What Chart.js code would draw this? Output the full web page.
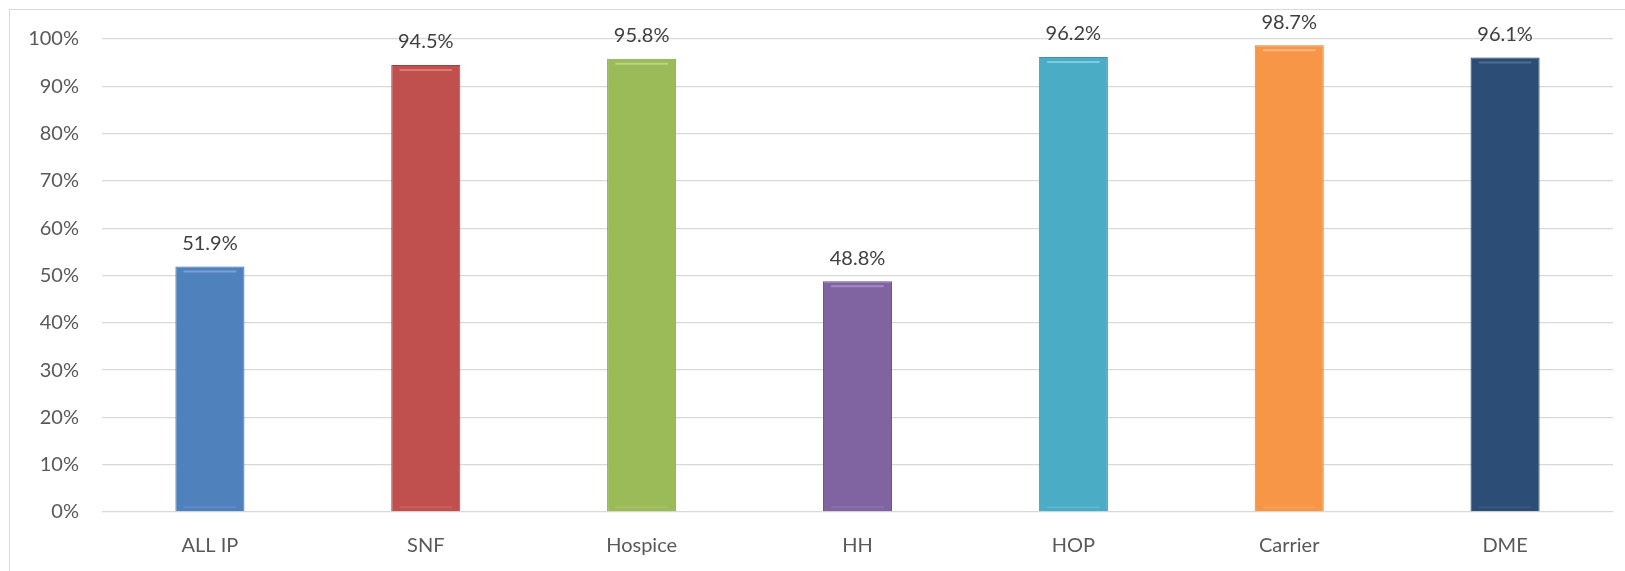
<!DOCTYPE html>
<html>
<head>
<meta charset="utf-8">
<script src="https://cdn.jsdelivr.net/npm/chart.js@4"></script>
<style>
  html, body { margin: 0; padding: 0; background: #fff; overflow: hidden; }
  #frame { position: absolute; left: 9px; top: 9px; width: 1640px; height: 600px; border: 1px solid #d9d9d9; box-sizing: border-box; }
  #wrap { position: absolute; left: 0; top: 0; width: 1625px; height: 571px; }
</style>
</head>
<body>
<div id="frame"></div>
<div id="wrap"><canvas id="c"></canvas></div>
<script>
const categories = ["ALL IP", "SNF", "Hospice", "HH", "HOP", "Carrier", "DME"];
const values = [51.9, 94.5, 95.8, 48.8, 96.2, 98.7, 96.1];
const barColors = ["#4F81BD", "#C0504D", "#9BBB59", "#8064A2", "#4BACC6", "#F79646", "#2C4D75"];
const borderColors = ["#3E6EA8", "#A43F3C", "#83A246", "#6A5089", "#3894AC", "#D9802F", "#223D5E"];
const highlightColors = ["#79A3D6", "#DB7A77", "#BAD586", "#A28CC2", "#7DCCE0", "#FBB782", "#4C6E96"];
const yTicks = [0, 10, 20, 30, 40, 50, 60, 70, 80, 90, 100];

const FONT = "Lato, 'Liberation Sans', sans-serif";

const bevelPlugin = {
  id: 'bevel',
  afterDatasetsDraw(chart) {
    const ctx = chart.ctx;
    const meta = chart.getDatasetMeta(0);
    meta.data.forEach((bar, i) => {
      const w = bar.width;
      const left = bar.x - w / 2;
      ctx.save();
      ctx.strokeStyle = highlightColors[i];
      ctx.lineWidth = 2;
      ctx.lineCap = 'round';
      ctx.beginPath();
      ctx.moveTo(left + 9, bar.y + 5);
      ctx.lineTo(left + w - 9, bar.y + 5);
      ctx.stroke();
      ctx.globalAlpha = 0.35;
      ctx.beginPath();
      ctx.moveTo(left + 9, bar.base - 4);
      ctx.lineTo(left + w - 9, bar.base - 4);
      ctx.stroke();
      ctx.restore();
    });
  }
};

const labelPlugin = {
  id: 'valueLabels',
  afterDatasetsDraw(chart) {
    const ctx = chart.ctx;
    const meta = chart.getDatasetMeta(0);
    ctx.save();
    ctx.font = "20px " + FONT;
    ctx.fillStyle = "#404040";
    ctx.textAlign = "center";
    ctx.textBaseline = "middle";
    meta.data.forEach((bar, i) => {
      ctx.fillText(values[i].toFixed(1) + "%", bar.x, bar.y - 23);
    });
    ctx.restore();
  }
};

new Chart(document.getElementById('c'), {
  type: 'bar',
  data: {
    labels: categories,
    datasets: [{
      data: values,
      backgroundColor: barColors,
      borderColor: borderColors,
      borderWidth: 1,
      borderSkipped: 'bottom',
      categoryPercentage: 1,
      barPercentage: 0.32
    }]
  },
  options: {
    responsive: true,
    maintainAspectRatio: false,
    animation: false,
    layout: { padding: { left: 0, right: 12, top: 39, bottom: 0 } },
    plugins: { legend: { display: false }, tooltip: { enabled: false } },
    scales: {
      x: {
        grid: { display: false, drawTicks: false },
        border: { display: false },
        ticks: { color: "#595959", font: { family: FONT, size: 20 }, padding: 22 },
        afterFit(scale) { scale.height = 59; }
      },
      y: {
        min: 0, max: 100,
        afterBuildTicks(scale) { scale.ticks = yTicks.map(v => ({ value: v })); },
        grid: { color: "#d9d9d9", lineWidth: 1.3, drawTicks: false },
        border: { display: false },
        ticks: {
          color: "#595959", font: { family: FONT, size: 20 }, padding: 23,
          callback: v => v + "%"
        },
        afterFit(scale) { scale.width = 102; }
      }
    }
  },
  plugins: [bevelPlugin, labelPlugin]
});
</script>
</body>
</html>
